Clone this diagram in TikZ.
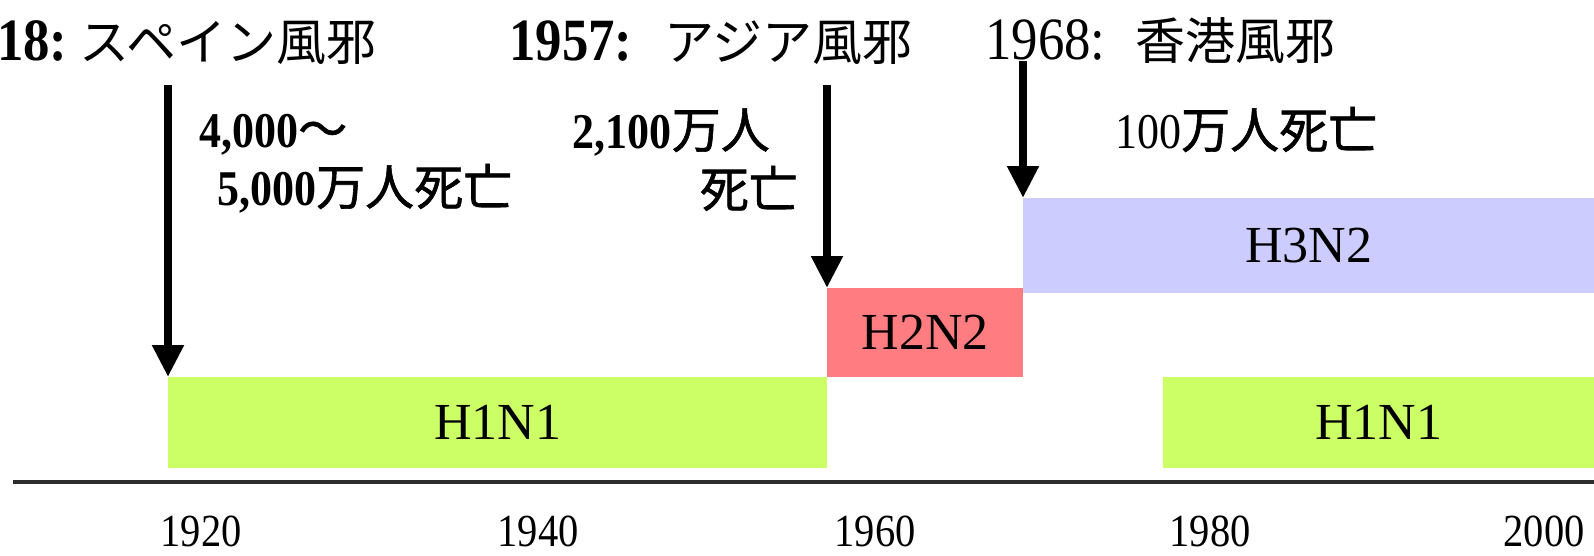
\documentclass[tikz,border=0pt]{standalone}
\usepackage{fontspec}
\setmainfont{Liberation Serif}
\newfontfamily\cjk{Noto Sans CJK JP}
\newfontfamily\cjkfb{Noto Sans CJK JP}[FakeBold=1.2]
\newfontfamily\numf{Liberation Serif}[FakeStretch=0.88]
\usetikzlibrary{arrows.meta}
\definecolor{hone}{RGB}{204,255,102}
\definecolor{htwo}{RGB}{255,124,128}
\definecolor{hthree}{RGB}{204,204,255}
\definecolor{axisgray}{RGB}{45,45,45}
\tikzset{
  strain/.style={draw=none, inner sep=0pt, anchor=north west,
    font=\fontsize{52}{56}\selectfont},
  down/.style={line width=8pt, draw=black, -{Triangle[length=32pt,width=30pt]}},
  axisline/.style={line width=4pt, draw=axisgray},
  head/.style={inner sep=0pt, anchor=base west, font=\fontsize{60}{64}\selectfont},
  toll/.style={inner sep=0pt, font=\fontsize{50}{54}\selectfont},
  year/.style={inner sep=0pt, anchor=base, font=\numf\fontsize{46}{50}\selectfont},
}
\newcommand{\jp}[1]{{\cjk\fontsize{50}{54}\selectfont #1}}
\newcommand{\jpb}[1]{{\cjkfb\fontsize{49}{53}\selectfont #1}}
\begin{document}
\begin{tikzpicture}[x=1pt,y=-1pt]
\useasboundingbox (0,0) rectangle (1594,555);

% strain bars
\node[strain, fill=hone, minimum width=659pt, minimum height=91pt] (h1a) at (168,377) {H1N1};
\node[strain, fill=htwo, minimum width=196pt, minimum height=89pt] (h2) at (827,288) {H2N2};
\node[strain, fill=hthree, minimum width=571pt, minimum height=95pt] (h3) at (1023,198) {H3N2};
\node[strain, fill=hone, minimum width=431pt, minimum height=91pt] (h1b) at (1163,377) {H1N1};

% axis
\coordinate (ax0) at (13,482);
\coordinate (ax1) at (1594,482);
\draw[axisline] (ax0) -- (ax1);

% years
\node[year] (y1920) at (201,546) {1920};
\node[year] (y1940) at (538,546) {1940};
\node[year] (y1960) at (875,546) {1960};
\node[year] (y1980) at (1210,546) {1980};
\node[year] (y2000) at (1544,546) {2000};

% headings
\node[head] (t1918) at (-3,60) {{\numf\bfseries 18:}\hspace{12pt}\jp{スペイン風邪}};
\node[head] (t1957) at (509,60) {{\numf\bfseries 1957:}\hspace{32pt}\jp{アジア風邪}};
\node[head] (t1968) at (985,59) {{\numf 1968:}\hspace{30pt}\jp{香港風邪}};

% tolls
\node[toll, anchor=base west] (d1a) at (199,147) {{\numf\bfseries 4,000}\jpb{～}};
\node[toll, anchor=base west] (d1b) at (217,205) {{\numf\bfseries 5,000}\jpb{万人死亡}};
\node[toll, anchor=base east] (d2a) at (770,148) {{\numf\bfseries 2,100}\jpb{万人}};
\node[toll, anchor=base east] (d2b) at (798,207) {\jpb{死亡}};
\node[toll, anchor=base west] (d3) at (1115,148) {{\numf 100}\jpb{万人死亡}};

% arrows
\coordinate (a1) at (168,85);
\coordinate (a2) at (827,85);
\coordinate (a3) at (1023,61);
\draw[down] (a1) -- (h1a.north west);
\draw[down] (a2) -- (h2.north west);
\draw[down] (a3) -- (h3.north west);
\end{tikzpicture}
\end{document}
